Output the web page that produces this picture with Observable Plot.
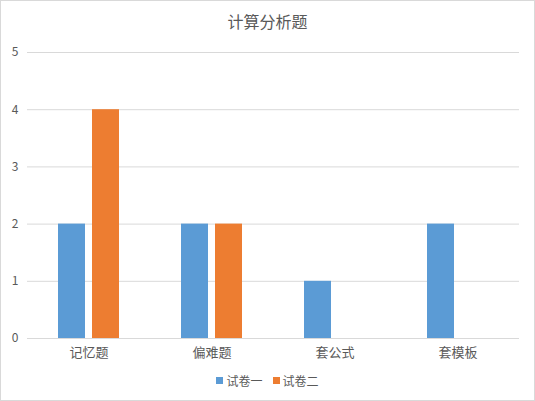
<!DOCTYPE html>
<html><head><meta charset="utf-8">
<script src="https://cdn.jsdelivr.net/npm/d3@7"></script>
<script src="https://cdn.jsdelivr.net/npm/@observablehq/plot@0.6"></script>
<style>
body{margin:0;background:#fff;font-family:"Noto Sans CJK SC","Noto Sans",sans-serif;}
#frame{position:relative;width:533px;height:399px;border:1px solid #d9d9d9;overflow:hidden;background:#fff;}
#title{height:39px;line-height:40px;text-align:center;font-size:16px;color:#595959;}
#legend{display:flex;justify-content:center;align-items:center;gap:10px;font-size:12px;color:#595959;margin-top:7px;}
#legend span.sw{display:inline-block;width:7px;height:7px;margin-right:3px;}
</style></head>
<body><div id="frame"><div id="title">计算分析题</div><div id="chart"></div><div id="legend"></div></div>
<script>
const categories = ["记忆题","偏难题","套公式","套模板"];
const seriesNames = ["试卷一","试卷二"];
const series1 = [2,2,1,2];
const series2 = [4,2,0,0];
const colors = ["#5B9BD5","#ED7D31"];
const yTicks = [0,1,2,3,4,5];

const data = [];
categories.forEach((c,i)=>{
  data.push({cat:c, s:seriesNames[0], v:series1[i]});
  data.push({cat:c, s:seriesNames[1], v:series2[i]});
});

const chart = Plot.plot({
  width: 533, height: 325,
  marginTop: 12, marginBottom: 27, marginLeft: 24, marginRight: 14,
  style:{fontFamily:'"Noto Sans CJK SC","Noto Sans",sans-serif', background:"#fff"},
  fx:{domain:categories, padding:0, label:null},
  x:{domain:seriesNames, axis:null, paddingInner:0.2, paddingOuter:0.868},
  y:{domain:[0,5], axis:null},
  color:{domain:seriesNames, range:colors},
  marks:[
    Plot.ruleY(yTicks, {stroke:"#d9d9d9", strokeWidth:1}),
    Plot.barY(data, {fx:"cat", x:"s", y:"v", fill:"s"}),
    Plot.axisY({ticks:yTicks, tickSize:0, tickPadding:9, tickFormat:d=>String(d), fontSize:12, color:"#595959", facetAnchor:"left", anchor:"left", label:null}),
    Plot.axisFx({anchor:"bottom", tickSize:0, tickPadding:9, fontSize:13, color:"#595959", label:null})
  ]
});
document.getElementById("chart").appendChild(chart);

const lg = document.getElementById("legend");
seriesNames.forEach((n,i)=>{
  const d = document.createElement("div");
  d.style.display="flex"; d.style.alignItems="center";
  d.innerHTML = `<span class="sw" style="background:${colors[i]}"></span>${n}`;
  lg.appendChild(d);
});
</script></body></html>
